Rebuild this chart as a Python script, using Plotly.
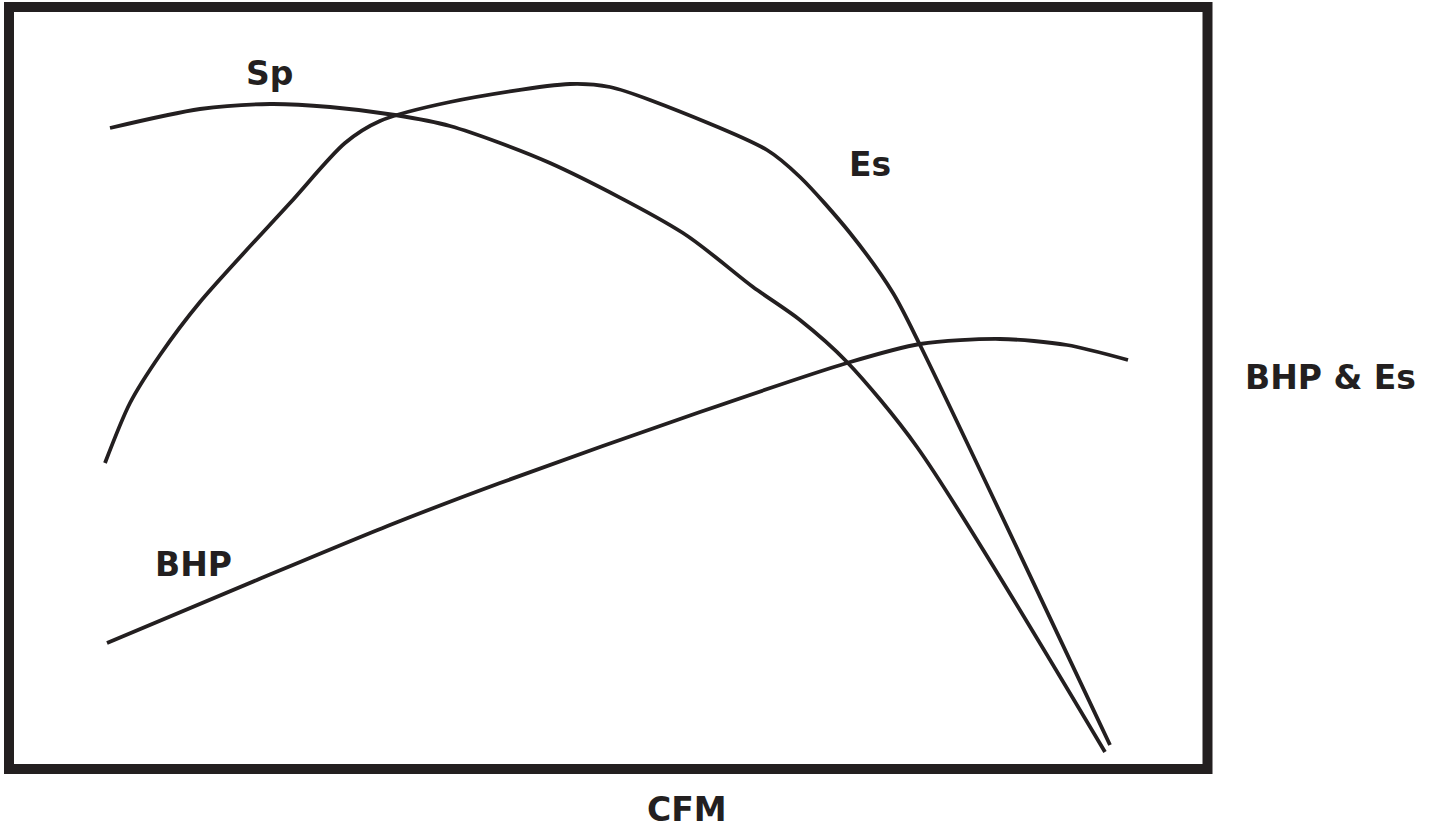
import plotly.graph_objects as go

# Curve data (in chart pixel units: x = CFM position, y = value position, y grows downward)
sp_x = [110, 200, 270, 330, 395, 450, 550, 683, 753, 800, 847, 917, 1105]
sp_y = [128, 109, 104, 107, 115, 126, 163, 233, 287, 320, 362, 447, 752]

es_x = [105, 130, 160, 200, 290, 345, 380, 450, 570, 610, 650, 767, 800, 850, 893, 920, 1110]
es_y = [463, 403, 355, 302, 203, 143, 121, 102, 84, 87, 100, 150, 177, 233, 293, 345, 745]

bhp_x = [107, 257, 390, 500, 700, 847, 920, 1000, 1067, 1128]
bhp_y = [643, 580, 525, 483, 412, 363, 344, 339, 345, 360]

labels = ["Sp", "Es", "BHP", "BHP & Es", "CFM"]
label_x = [269, 870, 193, 1330, 687]
label_y = [73, 164, 564, 377, 831]
label_anchor = ["middle", "middle", "middle", "middle", "bottom"]

INK = "#231f20"
W, H = 1432, 831

fig = go.Figure()
for xs, ys, name in [(sp_x, sp_y, "Sp"), (es_x, es_y, "Es"), (bhp_x, bhp_y, "BHP")]:
    fig.add_trace(go.Scatter(
        x=xs, y=ys, mode="lines", name=name,
        line=dict(color=INK, width=3.8, shape="spline", smoothing=0.8),
        hoverinfo="skip", showlegend=False,
    ))

for t, x, y, ya in zip(labels, label_x, label_y, label_anchor):
    fig.add_annotation(
        x=x, y=y, xref="x", yref="y", text=f"<b>{t}</b>", showarrow=False,
        xanchor="center", yanchor=ya,
        font=dict(family="DejaVu Sans", size=33, color=INK),
    )

fig.add_shape(type="rect", xref="x", yref="y", x0=9, y0=7, x1=1207.5, y1=769,
              line=dict(color=INK, width=10), fillcolor="rgba(0,0,0,0)", layer="above")

fig.update_xaxes(range=[0, W], visible=False, showgrid=False, zeroline=False, fixedrange=True)
fig.update_yaxes(range=[H, 0], visible=False, showgrid=False, zeroline=False, fixedrange=True)
fig.update_layout(
    width=W, height=H, margin=dict(l=0, r=0, t=0, b=0),
    paper_bgcolor="white", plot_bgcolor="white", showlegend=False,
)
fig.write_html(
    "out.html",
    config={"displayModeBar": False},
    post_script="document.body.style.margin='0';document.body.style.overflow='hidden';",
)
